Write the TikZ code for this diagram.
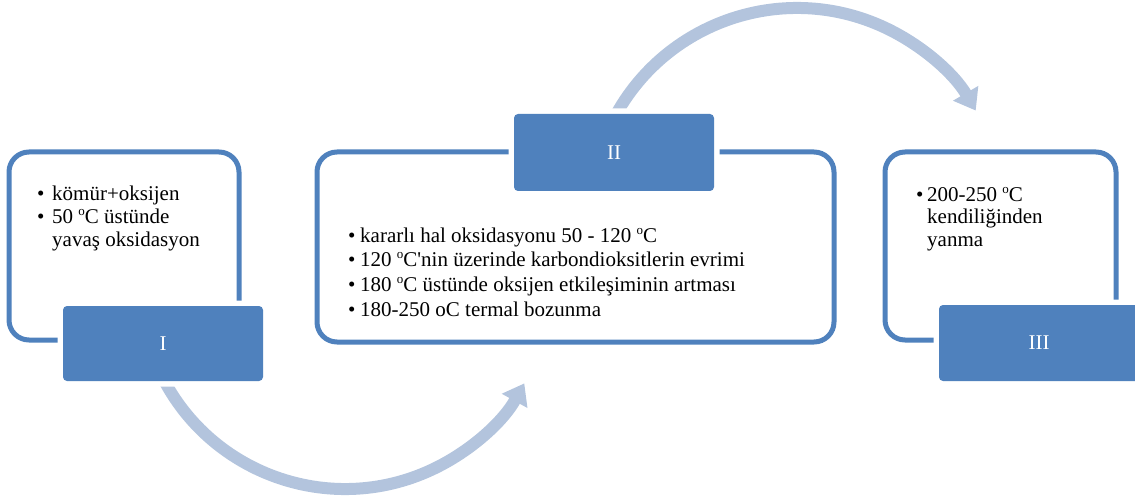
\documentclass[tikz,border=0pt]{standalone}
\usepackage{fontspec}
\setmainfont{Liberation Serif}
\usetikzlibrary{arrows.meta}
\definecolor{accent}{HTML}{4F81BD}
\definecolor{arcblue}{RGB}{179,196,221}
\newcommand\degsup{\raisebox{8pt}{\fontsize{13}{13}\selectfont o}}
\begin{document}
\begin{tikzpicture}[x=1pt,y=-1pt,
  outerbox/.style={draw=accent, line width=5pt, rounded corners=20pt, inner sep=0pt},
  labelbox/.style={fill=accent, rounded corners=4pt, text=white, minimum width=200pt,
    preaction={draw=white, line width=11pt}, font=\fontsize{21}{25}\selectfont},
  bodytext/.style={anchor=base west, inner sep=0pt, font=\fontsize{21}{25}\selectfont},
  arcarrow/.style={draw=arcblue, line width=12pt, -{Triangle[width=28pt,length=20pt]}}]
\useasboundingbox (0,0) rectangle (1135,497);
\clip (0,0) rectangle (1135,497);
% outer boxes
\node[outerbox, minimum width=230pt, minimum height=188pt] (b1) at (124,246) {};
\node[outerbox, minimum width=517pt, minimum height=190pt] (b2) at (575.5,247) {};
\node[outerbox, minimum width=231pt, minimum height=188pt] (b3) at (1000.5,246) {};
% box I text
\node[bodytext] (t1a) at (37,201) {\textbullet};
\node[bodytext] (t1b) at (52,201) {kömür+oksijen};
\node[bodytext] (t1c) at (37,224) {\textbullet};
\node[bodytext] (t1d) at (52,224) {50 \degsup C üstünde};
\node[bodytext] (t1e) at (52,247) {yavaş oksidasyon};
% box II text
\node[bodytext] (t2a) at (348,242) {\textbullet};
\node[bodytext] (t2b) at (360,242) {kararlı hal oksidasyonu 50 - 120 \degsup C};
\node[bodytext] (t2c) at (348,266) {\textbullet};
\node[bodytext] (t2d) at (360,266) {120 \degsup C\textquotesingle nin üzerinde karbondioksitlerin evrimi};
\node[bodytext] (t2e) at (348,291) {\textbullet};
\node[bodytext] (t2f) at (360,291) {180 \degsup C üstünde oksijen etkileşiminin artması};
\node[bodytext] (t2g) at (348,316) {\textbullet};
\node[bodytext] (t2h) at (360,316) {180-250 oC termal bozunma};
% box III text
\node[bodytext] (t3a) at (916,202) {\textbullet};
\node[bodytext] (t3b) at (927,202) {200-250 \degsup C};
\node[bodytext] (t3c) at (927,224) {kendiliğinden};
\node[bodytext] (t3d) at (927,247) {yanma};
% arcs
\coordinate (a1) at ([shift={(345,284)}]155:205);
\draw[arcarrow] (a1) arc[start angle=155, end angle=29, radius=205];
\coordinate (a2) at ([shift={(797,215)}]205:207);
\draw[arcarrow] (a2) arc[start angle=205, end angle=329.7, radius=207];
% labels
\node[labelbox, minimum height=75pt] (l1) at (163,343.5) {I};
\node[labelbox, minimum height=77pt] (l2) at (614,152.5) {II};
\node[labelbox, minimum height=76pt] (l3) at (1039,343) {III};
\end{tikzpicture}
\end{document}
